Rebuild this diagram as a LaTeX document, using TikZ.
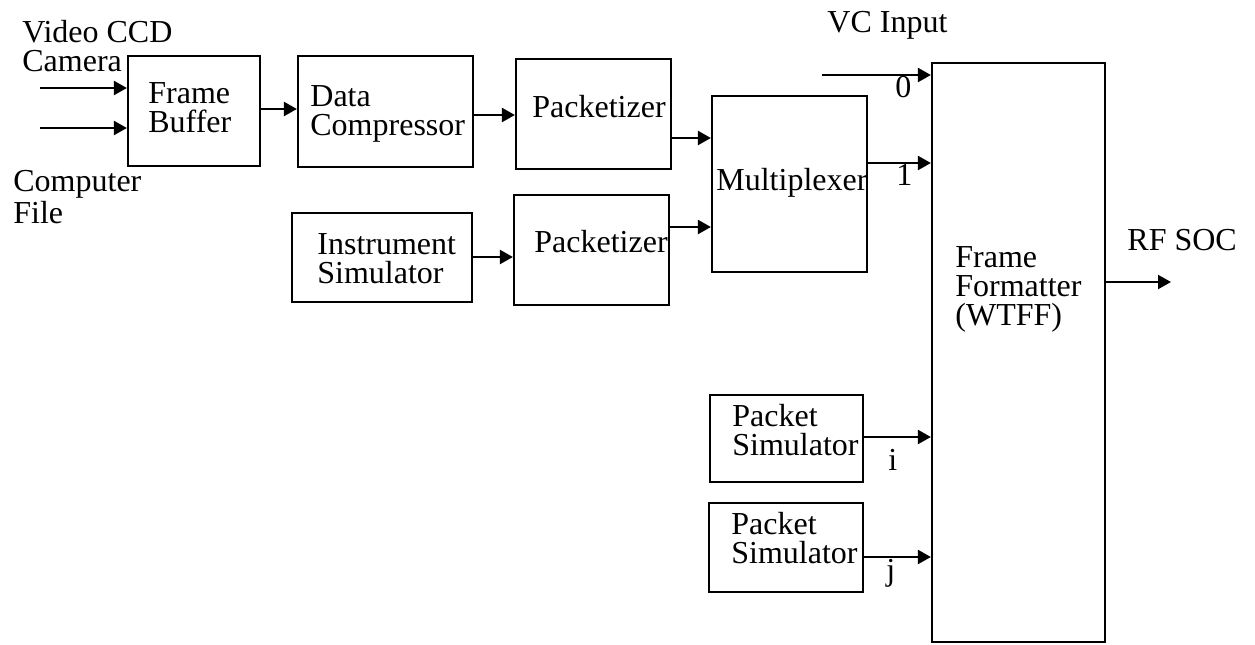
\documentclass[tikz,border=0pt]{standalone}
\usepackage{fontspec}
\setmainfont{Liberation Serif}
\usetikzlibrary{arrows.meta,fit}
\begin{document}
\begin{tikzpicture}[x=0.5pt,y=-0.5pt,
  box/.style={draw,line width=1.1pt,inner sep=0pt},
  arr/.style={line width=1.1pt,-{Triangle[length=6.5pt,width=7pt]}},
  lbl/.style={inner sep=0pt,anchor=base west,align=left,font=\fontsize{16}{14.5}\selectfont}]
\useasboundingbox (0,0) rectangle (1255,644);
% boxes
\node[box,fit={(128,56) (260,166)}] (fb) {};
\node[box,fit={(298,56) (473,167)}] (dc) {};
\node[box,fit={(516,59) (671,169)}] (pk1) {};
\node[box,fit={(292,213) (472,302)}] (is) {};
\node[box,fit={(514,195) (669,305)}] (pk2) {};
\node[box,fit={(712,96) (867,272)}] (mux) {};
\node[box,fit={(932,63) (1105,642)}] (ff) {};
\node[box,fit={(710,395) (863,482)}] (ps1) {};
\node[box,fit={(709,503) (863,592)}] (ps2) {};
% free ends
\coordinate (vin) at (40,88);
\coordinate (cin) at (40,128);
\coordinate (vcin) at (822,75);
\coordinate (rfout) at (1171,282);
% texts (anchor = baseline of last line)
\node[lbl] (tvid) at (22,71) {Video CCD\\Camera};
\node[lbl] (tcomp) at (13,223) {Computer\\File};
\node[lbl] (tfb) at (148,132) {Frame\\Buffer};
\node[lbl] (tdc) at (310,135) {Data\\Compressor};
\node[lbl] (tpk1) at (532,117) {Packetizer};
\node[lbl] (tis) at (317,283) {Instrument\\Simulator};
\node[lbl] (tpk2) at (534,252) {Packetizer};
\node[lbl] (tmux) at (716,190) {Multiplexer};
\node[lbl] (tvc) at (827,32) {VC Input};
\node[lbl] (t0) at (895,97) {0};
\node[lbl] (t1) at (896,185) {1};
\node[lbl] (tff) at (955,325) {Frame\\Formatter\\(WTFF)};
\node[lbl] (trf) at (1127,250) {RF SOC};
\node[lbl] (tps1) at (732,455) {Packet\\Simulator};
\node[lbl] (tps2) at (731,563) {Packet\\Simulator};
\node[lbl] (ti) at (888,470) {i};
\node[lbl] (tj) at (886,580) {j};
% connectors
\draw[arr] (vin) -- (fb.west |- vin);
\draw[arr] (cin) -- (fb.west |- cin);
\draw[arr] (fb.east |- 0,109) -- (dc.west |- 0,109);
\draw[arr] (dc.east |- 0,115) -- (pk1.west |- 0,115);
\draw[arr] (pk1.east |- 0,138) -- (mux.west |- 0,138);
\draw[arr] (is.east |- 0,257) -- (pk2.west |- 0,257);
\draw[arr] (pk2.east |- 0,227) -- (mux.west |- 0,227);
\draw[arr] (vcin) -- (ff.west |- vcin);
\draw[arr] (mux.east |- 0,163) -- (ff.west |- 0,163);
\draw[arr] (ps1.east |- 0,437) -- (ff.west |- 0,437);
\draw[arr] (ps2.east |- 0,557) -- (ff.west |- 0,557);
\draw[arr] (ff.east |- rfout) -- (rfout);
\end{tikzpicture}
\end{document}
